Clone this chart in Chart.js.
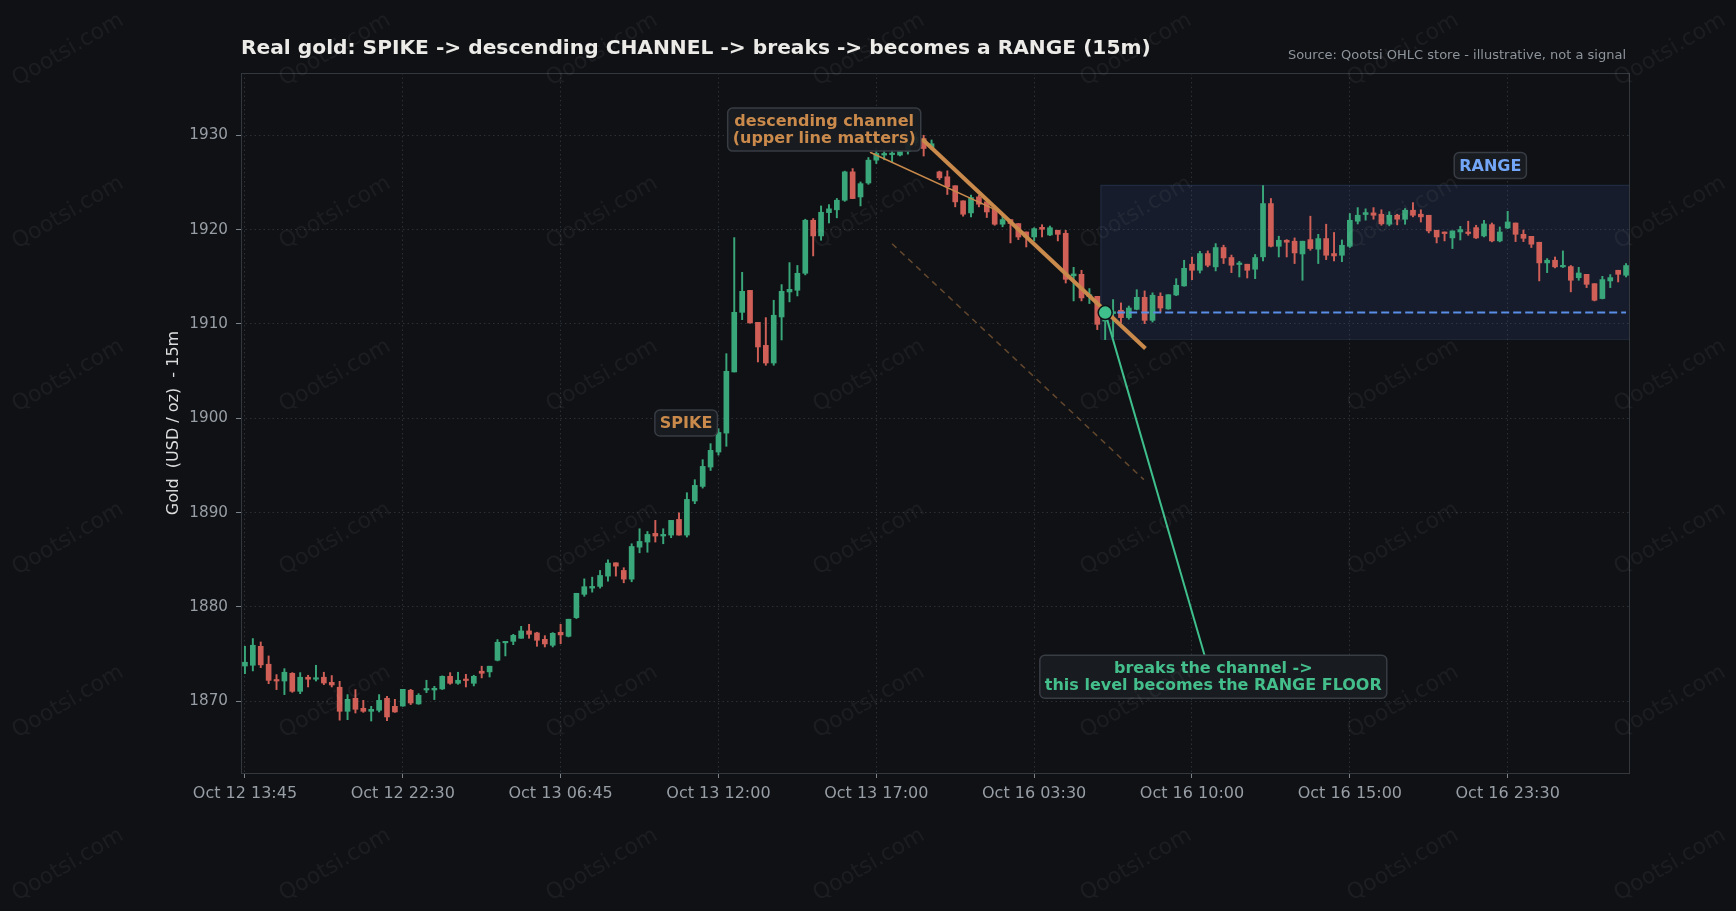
<!DOCTYPE html>
<html>
<head>
<meta charset="utf-8">
<script src="https://cdn.jsdelivr.net/npm/chart.js@4.4.1/dist/chart.umd.min.js"></script>
<style>
  html, body { margin: 0; padding: 0; background: #0f1115; }
  #wrap { width: 1736px; height: 911px; }
</style>
</head>
<body>
<div id="wrap"><canvas id="gold" width="1736" height="911"></canvas></div>
<script>
// tick labels on the x axis, one every 20 candles
const tickLabels = ['Oct 12 13:45', 'Oct 12 22:30', 'Oct 13 06:45', 'Oct 13 12:00', 'Oct 13 17:00',
                    'Oct 16 03:30', 'Oct 16 10:00', 'Oct 16 15:00', 'Oct 16 23:30'];
const tickEvery = 20;
const yTicks = [1870, 1880, 1890, 1900, 1910, 1920, 1930];

// 15m OHLC
const opens = [1873.74,1873.82,1875.83,1873.93,1872.22,1872.15,1872.97,1871.06,1872.55,1872.34,
1872.55,1872.01,1871.49,1868.94,1870.32,1869.26,1868.94,1869.05,1870.32,1869.47,
1869.50,1871.17,1869.72,1871.20,1871.20,1871.31,1872.65,1871.91,1872.26,1871.91,
1873.19,1873.12,1874.35,1876.20,1876.36,1876.68,1877.46,1877.25,1876.57,1875.94,
1877.32,1876.89,1878.87,1881.34,1882.00,1882.18,1883.27,1884.68,1883.87,1882.95,
1886.34,1886.88,1887.80,1887.52,1887.62,1889.28,1887.62,1891.23,1892.78,1894.83,
1896.42,1898.43,1904.91,1911.23,1913.56,1910.17,1907.73,1905.86,1910.74,1913.39,
1913.57,1915.37,1920.99,1919.33,1921.80,1922.10,1923.11,1926.12,1923.46,1924.94,
1927.36,1927.90,1927.95,1927.90,1928.30,1929.20,1929.65,1928.70,1926.12,1925.60,
1924.65,1923.05,1921.77,1923.47,1922.94,1922.23,1920.57,1921.06,1920.64,1919.75,
1919.22,1920.24,1919.43,1919.93,1919.61,1915.10,1915.26,1912.90,1912.93,1910.30,
1911.10,1911.45,1910.67,1911.55,1912.82,1910.38,1912.93,1911.59,1913.07,1914.03,
1916.33,1915.69,1917.46,1916.05,1918.10,1917.04,1916.30,1916.33,1915.80,1917.11,
1922.76,1918.23,1918.87,1918.77,1917.42,1918.94,1917.92,1919.05,1917.46,1917.28,
1918.23,1920.89,1921.60,1921.77,1921.63,1920.57,1921.52,1921.10,1922.05,1921.63,
1921.52,1919.93,1919.75,1919.12,1919.75,1919.75,1920.21,1919.33,1920.53,1918.80,
1920.17,1920.70,1919.50,1919.29,1918.66,1916.47,1916.75,1916.05,1916.08,1914.90,
1915.26,1914.27,1912.69,1914.56,1915.69,1915.16];

const highs = [1875.83,1876.65,1876.29,1874.81,1872.83,1873.46,1873.04,1873.04,1872.76,1873.82,
1873.08,1872.73,1872.12,1870.71,1871.24,1870.10,1869.47,1870.71,1870.53,1870.21,
1871.27,1871.27,1870.81,1872.23,1871.59,1872.70,1873.04,1873.08,1872.86,1872.76,
1873.72,1873.72,1876.54,1876.36,1877.10,1877.95,1878.16,1877.32,1876.96,1877.28,
1878.16,1878.70,1881.45,1882.98,1883.16,1883.87,1885.00,1884.68,1884.16,1886.70,
1888.29,1888.00,1889.18,1888.29,1889.18,1889.99,1892.11,1893.49,1895.61,1897.31,
1898.90,1906.85,1919.15,1915.47,1913.56,1910.17,1910.67,1912.51,1914.17,1916.50,
1916.20,1921.10,1921.17,1922.51,1922.65,1923.30,1926.20,1926.47,1925.05,1927.64,
1928.60,1928.50,1928.50,1928.40,1929.60,1930.30,1930.00,1929.50,1926.20,1926.23,
1924.65,1923.05,1923.65,1923.65,1922.94,1922.23,1921.50,1921.06,1920.64,1919.75,
1920.20,1920.52,1920.38,1919.93,1919.93,1916.00,1915.69,1913.75,1912.93,1911.80,
1912.58,1912.23,1911.90,1913.63,1913.50,1913.30,1913.30,1913.10,1914.80,1916.75,
1917.10,1917.70,1917.74,1918.52,1918.35,1917.30,1916.64,1916.33,1917.36,1924.67,
1923.30,1919.30,1918.94,1919.12,1918.77,1921.42,1919.50,1920.57,1919.70,1918.90,
1921.70,1922.33,1922.20,1922.33,1922.10,1921.90,1921.63,1922.23,1922.86,1922.10,
1921.52,1919.93,1919.75,1919.86,1920.35,1920.89,1920.46,1920.99,1920.70,1920.28,
1921.94,1920.70,1919.96,1919.29,1918.66,1916.93,1917.10,1917.74,1916.20,1916.00,
1915.26,1914.27,1915.05,1915.23,1915.69,1916.40];

const lows = [1872.93,1873.22,1873.57,1871.87,1871.24,1870.71,1870.95,1870.81,1871.52,1872.15,
1871.77,1871.52,1868.00,1868.05,1868.76,1868.83,1867.91,1868.87,1867.95,1868.83,
1869.47,1869.65,1869.68,1870.92,1870.18,1871.25,1871.80,1871.80,1871.52,1871.63,
1872.48,1872.58,1874.28,1874.81,1876.00,1876.68,1876.68,1875.83,1875.76,1875.76,
1876.11,1876.82,1878.77,1881.13,1881.57,1882.00,1882.74,1883.27,1882.56,1882.67,
1885.74,1885.80,1886.88,1886.70,1887.34,1887.62,1887.41,1890.95,1892.60,1894.47,
1896.10,1897.03,1904.91,1910.45,1910.10,1905.97,1905.62,1905.62,1908.30,1912.34,
1912.97,1915.20,1917.21,1918.87,1920.70,1921.25,1923.00,1923.29,1922.51,1924.80,
1927.00,1927.40,1927.20,1927.80,1928.00,1928.90,1927.80,1928.50,1925.30,1923.72,
1922.41,1921.42,1921.35,1922.41,1921.28,1920.46,1920.30,1918.59,1918.94,1918.16,
1918.80,1919.22,1919.36,1918.80,1914.34,1912.44,1912.44,1912.16,1909.40,1908.34,
1908.60,1910.10,1910.50,1911.50,1910.03,1910.20,1911.27,1911.55,1913.00,1914.00,
1914.70,1915.40,1916.05,1915.62,1916.40,1915.44,1914.98,1914.87,1914.80,1916.68,
1918.16,1917.10,1917.10,1916.40,1914.63,1917.81,1916.40,1916.82,1916.68,1916.60,
1918.10,1920.60,1921.00,1921.10,1920.46,1920.40,1920.50,1920.57,1921.35,1920.80,
1919.65,1918.59,1918.80,1917.99,1918.90,1919.40,1919.05,1919.22,1918.70,1918.70,
1920.10,1918.73,1918.73,1918.10,1914.56,1915.44,1915.94,1915.98,1913.40,1914.63,
1913.85,1912.44,1912.65,1913.85,1914.45,1914.98];

const closes = [1874.14,1875.94,1873.86,1872.22,1872.15,1873.08,1871.06,1872.55,1872.34,1872.45,
1871.94,1871.73,1868.94,1870.21,1869.15,1868.94,1869.15,1870.10,1868.34,1868.87,
1871.27,1869.82,1870.64,1871.31,1871.38,1872.65,1871.91,1872.23,1872.20,1872.65,
1872.97,1873.72,1876.26,1876.36,1876.99,1877.46,1877.10,1876.47,1876.08,1877.21,
1877.04,1878.70,1881.45,1882.15,1882.18,1883.34,1884.65,1884.33,1882.95,1886.41,
1886.95,1887.69,1887.52,1887.69,1889.18,1887.62,1891.40,1892.89,1894.90,1896.60,
1898.50,1904.98,1911.23,1913.46,1910.10,1907.56,1905.86,1910.92,1913.46,1913.67,
1915.37,1920.99,1919.33,1921.84,1922.20,1923.11,1926.12,1923.29,1924.87,1927.36,
1928.07,1928.07,1928.05,1928.30,1929.20,1929.80,1928.60,1929.10,1925.49,1924.54,
1922.94,1921.63,1923.40,1922.69,1921.87,1920.57,1921.06,1920.64,1919.22,1919.22,
1920.10,1920.03,1920.20,1919.50,1914.73,1915.30,1912.76,1913.10,1909.96,1911.40,
1911.30,1910.67,1911.69,1912.82,1910.38,1913.04,1911.69,1913.10,1914.10,1915.90,
1915.69,1917.46,1916.22,1918.10,1917.00,1916.22,1916.40,1915.69,1917.04,1922.76,
1918.23,1918.87,1918.66,1917.53,1918.77,1917.99,1919.05,1917.28,1917.21,1918.34,
1920.99,1921.52,1921.80,1921.52,1920.61,1921.52,1921.10,1922.05,1921.52,1921.35,
1919.86,1919.22,1919.58,1919.86,1920.00,1919.58,1919.12,1920.60,1918.80,1919.75,
1920.81,1919.50,1919.08,1918.45,1916.47,1916.75,1916.05,1916.12,1914.63,1915.40,
1914.20,1912.51,1914.70,1914.91,1915.26,1916.19];

// drawn levels (x = candle index, y = price)
const channelUpper = [{x: 85.8, y: 1929.6}, {x: 114.1, y: 1907.4}];
const channelLower = [{x: 82.0, y: 1918.5}, {x: 113.9, y: 1893.5}];
const channelPointer = [{x: 79.2, y: 1928.2}, {x: 95.9, y: 1921.8}];
const breakPoint = {x: 109.0, y: 1911.2};
const breakArrowFrom = {x: 121.6, y: 1874.85};
const rangeFloor = 1911.2;
const rangeStart = 108.4, rangeTop = 1924.75, rangeBottom = 1908.4;

const GREEN = '#3aa77a';
const RED = '#cf5f57';
const ORANGE = '#c98a4b';

const N = opens.length;
const idx = opens.map((_, i) => i);
const candleColors = idx.map(i => closes[i] >= opens[i] ? GREEN : RED);

Chart.defaults.font.family = '"DejaVu Sans", sans-serif';

function labelBox(ctx, lines, cx, cy, color) {
    ctx.save();
    ctx.font = 'bold 16px "DejaVu Sans"';
    const lh = 17;
    const w = Math.max(...lines.map(t => ctx.measureText(t).width)) + 10;
    const h = lines.length * lh + 9;
    ctx.fillStyle = 'rgba(25,28,33,0.94)';
    ctx.strokeStyle = '#383c43';
    ctx.lineWidth = 1.5;
    ctx.beginPath();
    ctx.roundRect(cx - w / 2, cy - h / 2, w, h, 5);
    ctx.fill();
    ctx.stroke();
    ctx.fillStyle = color;
    ctx.textAlign = 'center';
    ctx.textBaseline = 'middle';
    lines.forEach((t, k) => ctx.fillText(t, cx, cy + (k - (lines.length - 1) / 2) * lh + 1));
    ctx.restore();
}

const overlay = {
    id: 'overlay',
    beforeDraw(chart) {
        const ctx = chart.ctx;
        ctx.save();
        ctx.fillStyle = '#0f1115';
        ctx.fillRect(0, 0, chart.width, chart.height);
        ctx.restore();
    },
    beforeDatasetsDraw(chart) {
        const {ctx, chartArea: a, scales: {x, y}} = chart;
        // the range box
        const x0 = x.getPixelForValue(rangeStart);
        const y0 = y.getPixelForValue(rangeTop);
        const y1 = y.getPixelForValue(rangeBottom);
        ctx.save();
        ctx.fillStyle = 'rgba(70,110,190,0.13)';
        ctx.fillRect(x0, y0, a.right - x0, y1 - y0);
        ctx.strokeStyle = 'rgba(90,120,170,0.22)';
        ctx.lineWidth = 1;
        ctx.strokeRect(x0 + 0.5, y0 + 0.5, a.right - x0 - 1, y1 - y0);
        ctx.restore();
    },
    afterDatasetsDraw(chart) {
        const {ctx, scales: {x, y}} = chart;
        labelBox(ctx, ['descending channel', '(upper line matters)'],
                 x.getPixelForValue(73.4), y.getPixelForValue(1930.6), ORANGE);
        labelBox(ctx, ['SPIKE'], x.getPixelForValue(55.9), y.getPixelForValue(1899.5), ORANGE);
        labelBox(ctx, ['RANGE'], x.getPixelForValue(157.8), y.getPixelForValue(1926.8), '#74a6f7');
        labelBox(ctx, ['breaks the channel ->', 'this level becomes the RANGE FLOOR'],
                 x.getPixelForValue(122.7), y.getPixelForValue(1872.6), '#44bf8c');
    },
    afterDraw(chart) {
        const {ctx, chartArea: a} = chart;
        ctx.save();
        // axes frame
        ctx.strokeStyle = '#33373e';
        ctx.lineWidth = 1;
        ctx.strokeRect(a.left + 0.5, a.top + 0.5, a.right - a.left - 1, a.bottom - a.top);
        // title + source
        ctx.fillStyle = '#ecebe8';
        ctx.font = 'bold 20.2px "DejaVu Sans"';
        ctx.textAlign = 'left';
        ctx.textBaseline = 'alphabetic';
        ctx.fillText('Real gold: SPIKE -> descending CHANNEL -> breaks -> becomes a RANGE (15m)', a.left, 54);
        ctx.fillStyle = '#8e949b';
        ctx.font = '13px "DejaVu Sans"';
        ctx.textAlign = 'right';
        ctx.fillText('Source: Qootsi OHLC store - illustrative, not a signal', a.right - 4, 59);
        // watermark
        ctx.fillStyle = 'rgba(255,255,255,0.05)';
        ctx.font = '22px "DejaVu Sans"';
        ctx.textAlign = 'center';
        ctx.textBaseline = 'middle';
        for (let r = 0; r < 6; r++) {
            for (let c = 0; c < 7; c++) {
                ctx.save();
                ctx.translate(68 + c * 267, 50 + r * 163);
                ctx.rotate(-30 * Math.PI / 180);
                ctx.fillText('Qootsi.com', 0, 0);
                ctx.restore();
            }
        }
        ctx.restore();
    }
};

const ctx = document.getElementById('gold').getContext('2d');

const lineDs = (data, color, width, dash, order) => ({
    type: 'line', data, borderColor: color, borderWidth: width, borderDash: dash,
    pointRadius: 0, fill: false, tension: 0, order
});

new Chart(ctx, {
    type: 'bar',
    data: {
        datasets: [
            {
                label: 'body',
                data: idx.map(i => ({x: i, y: [opens[i], closes[i]]})),
                backgroundColor: candleColors,
                barThickness: 5,
                minBarLength: 1.5,
                grouped: false,
                order: 5
            },
            {
                label: 'wick',
                data: idx.map(i => ({x: i, y: [lows[i], highs[i]]})),
                backgroundColor: candleColors,
                barThickness: 1.3,
                grouped: false,
                order: 6
            },
            lineDs(channelLower, 'rgba(201,138,75,0.45)', 1.5, [6, 5], 4),
            lineDs([{x: breakPoint.x, y: rangeFloor}, {x: N - 1, y: rangeFloor}], '#5b8ee6', 2, [8, 4], 3),
            lineDs(channelUpper, ORANGE, 4, [], 2),
            lineDs(channelPointer, ORANGE, 1.6, [], 2),
            lineDs([breakArrowFrom, breakPoint], '#3fbf8c', 2, [], 1),
            {
                type: 'line', data: [breakPoint], showLine: false,
                pointRadius: 7, pointBackgroundColor: '#3fbf8c',
                pointBorderColor: '#0f1115', pointBorderWidth: 1.5, order: 0
            }
        ]
    },
    options: {
        responsive: false,
        animation: false,
        devicePixelRatio: 1,
        layout: {padding: {left: 160, right: 106, top: 73, bottom: 0}},
        plugins: {legend: {display: false}, tooltip: {enabled: false}},
        scales: {
            x: {
                type: 'linear',
                min: -0.5,
                max: N - 0.5,
                offset: false,
                afterBuildTicks: axis => { axis.ticks = tickLabels.map((_, k) => ({value: k * tickEvery})); },
                afterFit: axis => { axis.height = 138; },
                ticks: {
                    callback: (v, i) => tickLabels[i],
                    color: '#989ea5',
                    font: {size: 16},
                    padding: 6,
                    autoSkip: false,
                    maxRotation: 0
                },
                grid: {color: '#2b3037', offset: false, tickLength: 5, tickColor: '#7d838a', lineWidth: 1},
                border: {display: false, dash: [1.5, 3]}
            },
            y: {
                min: 1862.4,
                max: 1936.6,
                afterBuildTicks: axis => { axis.ticks = yTicks.map(v => ({value: v})); },
                afterFit: axis => { axis.width = 81; },
                ticks: {callback: v => String(v), color: '#989ea5', font: {size: 15.2}, padding: 8},
                grid: {color: '#2b3037', tickLength: 5, tickColor: '#7d838a', lineWidth: 1},
                border: {display: false, dash: [1.5, 3]},
                title: {display: true, text: 'Gold  (USD / oz)  - 15m', color: '#dedede', font: {size: 16}, padding: 4}
            }
        }
    },
    plugins: [overlay]
});
</script>
</body>
</html>
